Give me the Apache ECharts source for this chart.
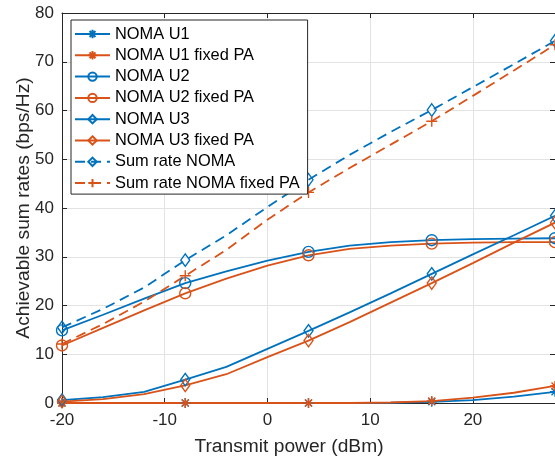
<!DOCTYPE html>
<html>
<head>
<meta charset="utf-8">
<script src="https://cdn.jsdelivr.net/npm/echarts@6/dist/echarts.min.js"></script>
<style>html,body{margin:0;padding:0;background:#fff}#c{width:555px;height:461px}</style>
</head>
<body>
<div id="c"></div>
<script>
// ---- data ----
const xs = [-20, -16, -12, -8, -4, 0, 4, 8, 12, 16, 20, 24, 28];
const markerIdx = [0, 3, 6, 9, 12];
const u1      = [0, 0, 0, 0, 0, 0, 0, 0, 0.05, 0.25, 0.6, 1.3, 2.3];
const u1Fixed = [0, 0, 0, 0, 0, 0, 0, 0, 0.1, 0.4, 1.1, 2.1, 3.5];
const u2      = [14.9, 18.1, 21.4, 24.6, 27.0, 29.2, 31.0, 32.3, 33.0, 33.4, 33.6, 33.7, 33.8];
const u2Fixed = [11.8, 15.4, 19.0, 22.5, 25.5, 28.2, 30.3, 31.6, 32.3, 32.7, 32.9, 33.0, 33.0];
const u3      = [0.6, 1.2, 2.3, 4.8, 7.4, 11.1, 14.8, 18.6, 22.5, 26.5, 30.5, 34.4, 38.4];
const u3Fixed = [0.3, 0.8, 1.8, 3.6, 5.9, 9.4, 12.8, 16.6, 20.6, 24.6, 28.7, 32.9, 37.0];
const sumRate      = [15.5, 19.3, 23.7, 29.3, 34.4, 40.2, 45.8, 50.9, 55.6, 60.1, 64.8, 69.5, 74.3];
const sumRateFixed = [12.1, 16.2, 20.8, 26.1, 31.4, 37.6, 43.2, 48.2, 53.0, 57.8, 63.0, 68.2, 73.5];
const names = ['NOMA U1', 'NOMA U1 fixed PA', 'NOMA U2', 'NOMA U2 fixed PA', 'NOMA U3', 'NOMA U3 fixed PA', 'Sum rate NOMA', 'Sum rate NOMA fixed PA'];
const xTicks = [-20, -10, 0, 10, 20];
const yTicks = [0, 10, 20, 30, 40, 50, 60, 70, 80];

// ---- styles ----
const BLUE = '#0072BD', ORANGE = '#D95319';
const FONT = 'Liberation Sans, Arial, Helvetica, sans-serif';
const ASTER = 'path://M5,0L5,10M0,5L10,5M1.5,1.5L8.5,8.5M8.5,1.5L1.5,8.5';
const PLUS = 'path://M5,0L5,10M0,5L10,5';

function mk(name, ys, color, symbol, size, dashed) {
  return {
    name: name,
    type: 'line',
    data: xs.map((x, i) => markerIdx.includes(i) ? [x, ys[i]] : { value: [x, ys[i]], symbol: 'none' }),
    symbol: symbol,
    symbolSize: size,
    showAllSymbol: true,
    lineStyle: { color: color, width: 1.8, type: dashed ? [10, 6] : 'solid' },
    itemStyle: { color: 'rgba(255,255,255,0)', borderColor: color, borderWidth: 1.4 },
    emphasis: { disabled: true },
    z: 3,
    animation: false
  };
}

const series = [
  mk(names[0], u1, BLUE, ASTER, 10, false),
  mk(names[1], u1Fixed, ORANGE, ASTER, 10, false),
  mk(names[2], u2, BLUE, 'circle', 11, false),
  mk(names[3], u2Fixed, ORANGE, 'circle', 11, false),
  mk(names[4], u3, BLUE, 'diamond', [9, 12.5], false),
  mk(names[5], u3Fixed, ORANGE, 'diamond', [9, 12.5], false),
  mk(names[6], sumRate, BLUE, 'diamond', [9, 12.5], true),
  mk(names[7], sumRateFixed, ORANGE, PLUS, 11, true)
];

const axisCol = '#262626';
const chart = echarts.init(document.getElementById('c'), null, { renderer: 'canvas' });
chart.setOption({
  animation: false,
  textStyle: { fontFamily: FONT },
  grid: { left: 62, right: -4, top: 13, bottom: 58 },
  xAxis: [{
    type: 'value', min: -20, max: 28, interval: 10, position: 'bottom',
    name: 'Transmit power (dBm)', nameLocation: 'middle', nameGap: 34, nameMoveOverlap: false,
    nameTextStyle: { fontSize: 19.2, color: axisCol, fontFamily: FONT, padding: [0, 39, 0, 0] },
    axisLine: { show: true, onZero: false, lineStyle: { color: axisCol, width: 1 } },
    axisTick: { show: true, inside: true, length: 5, lineStyle: { color: axisCol } },
    axisLabel: { fontSize: 17, color: axisCol, fontFamily: FONT, margin: 9, showMaxLabel: false,
      formatter: v => xTicks.includes(v) ? String(v) : '' },
    splitLine: { show: true, lineStyle: { color: '#e3e3e3', width: 1 } }
  }, {
    type: 'value', min: -20, max: 28, interval: 10, position: 'top',
    axisLine: { show: true, onZero: false, lineStyle: { color: axisCol, width: 1 } },
    axisTick: { show: true, inside: true, length: 5, lineStyle: { color: axisCol } },
    axisLabel: { show: false }, splitLine: { show: false }
  }],
  yAxis: [{
    type: 'value', min: 0, max: 80, interval: 10, position: 'left',
    name: 'Achievable sum rates (bps/Hz)', nameLocation: 'middle', nameGap: 29, nameMoveOverlap: false,
    nameTextStyle: { fontSize: 19.2, color: axisCol, fontFamily: FONT },
    axisLine: { show: true, onZero: false, lineStyle: { color: axisCol, width: 1 } },
    axisTick: { show: true, inside: true, length: 5, lineStyle: { color: axisCol } },
    axisLabel: { fontSize: 17, color: axisCol, fontFamily: FONT, margin: 8,
      formatter: v => yTicks.includes(v) ? String(v) : '' },
    splitLine: { show: true, lineStyle: { color: '#e3e3e3', width: 1 } }
  }, {
    type: 'value', min: 0, max: 80, interval: 10, position: 'right',
    axisLine: { show: true, onZero: false, lineStyle: { color: axisCol, width: 1 } },
    axisTick: { show: true, inside: true, length: 5, lineStyle: { color: axisCol } },
    axisLabel: { show: false }, splitLine: { show: false }
  }],
  legend: {
    orient: 'vertical', left: 71, top: 20,
    padding: [6, 8, 3, 3],
    itemWidth: 35, itemHeight: 10.5, itemGap: 5.3,
    backgroundColor: '#fff', borderColor: axisCol, borderWidth: 1, borderRadius: 0,
    textStyle: { fontSize: 16.4, color: '#000', fontFamily: FONT, lineHeight: 16 },
    data: names,
    selectedMode: false
  },
  series: series
});
</script>
</body>
</html>
